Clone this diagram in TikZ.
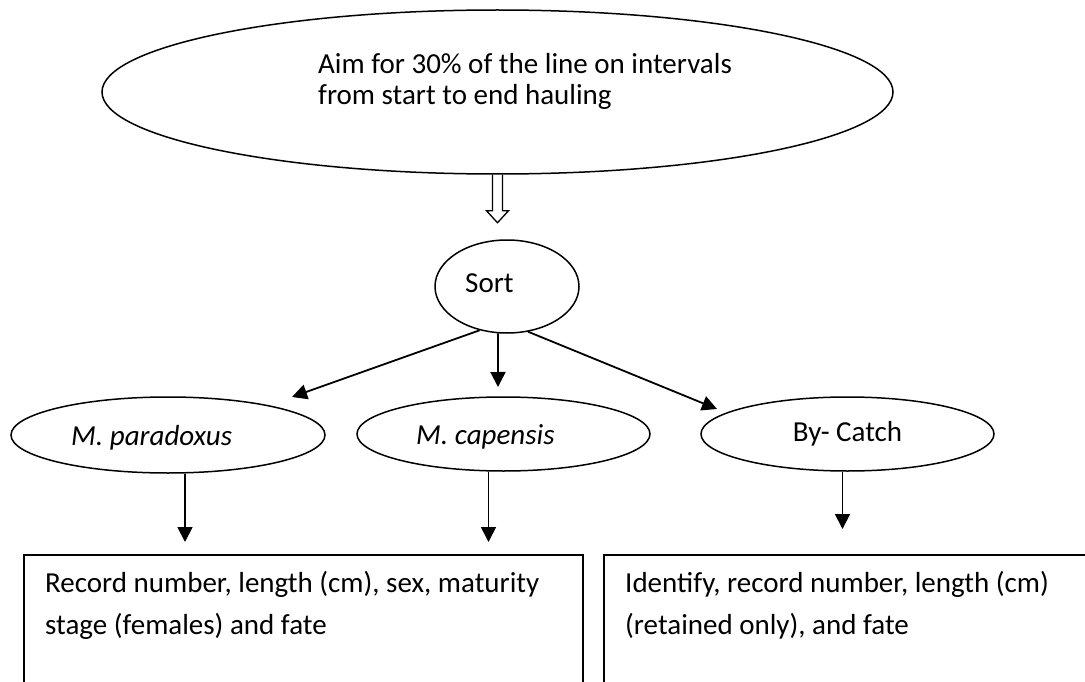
\documentclass[tikz,border=0pt]{standalone}
\usepackage{fontspec}
\setmainfont{Carlito}
\usepackage{tikz}
\usetikzlibrary{arrows.meta,shapes.geometric,positioning,calc}

\begin{document}
\begin{tikzpicture}[x=1pt, y=-1pt,
  oval/.style={draw, ellipse, line width=1.5pt, inner sep=0pt, font=\fontsize{29}{35}\selectfont},
  panel/.style={draw, rectangle, line width=2pt, anchor=north west},
  txt/.style={font=\fontsize{29}{31}\selectfont, inner sep=0pt, align=left},
  boxtxt/.style={font=\fontsize{29}{42}\selectfont, inner sep=0pt, align=left, anchor=north west},
  arr/.style={-{Triangle[length=15pt, width=15pt]}, line width=1.8pt},
  hollow/.style={line width=1.3pt, line join=miter}
]
\useasboundingbox (0,0) rectangle (1085,682);

% Ellipses
\node[oval, minimum width=791pt, minimum height=164pt] (aim) at (497.5,92) {};
\node[oval, minimum width=144pt, minimum height=93pt] (sort) at (507,286.5) {};
\node[oval, minimum width=314pt, minimum height=76pt] (para) at (168,435) {};
\node[oval, minimum width=293pt, minimum height=74pt] (cap) at (503.5,434) {};
\node[oval, minimum width=293pt, minimum height=74pt] (bycatch) at (847.5,434) {By- Catch};

% Ellipse texts
\node[txt, anchor=north west] (aimtxt) at (318,53) {Aim for 30\% of the line on intervals\\from start to end hauling};
\node[txt, anchor=base west] (sorttxt) at (465,292) {Sort};
\node[txt, anchor=base west] (paratxt) at (71,445) {\textit{M. paradoxus}};
\node[txt, anchor=base west] (captxt) at (416,444) {\textit{M. capensis}};

% Boxes
\node[panel, minimum width=559pt, minimum height=170pt] (lbox) at (23,554) {};
\node[panel, minimum width=520pt, minimum height=170pt] (rbox) at (603,554) {};
\node[boxtxt] (ltxt) at ([xshift=22pt,yshift=-17pt]lbox.north west) {Record number, length (cm), sex, maturity\\stage (females) and fate};
\node[boxtxt] (rtxt) at ([xshift=22pt,yshift=-17pt]rbox.north west) {Identify, record number, length (cm)\\(retained only), and fate};

% Hollow arrow
\draw[hollow] ([xshift=-5pt]aim.south) -- ++(0,36) -- ++(-6,0) -- ++(11,12) -- ++(11,-12) -- ++(-6,0) -- ++(0,-36);

% Arrow ends
\coordinate (paratip) at (292,397);
\coordinate (captip) at (498,387);
\coordinate (bytip) at (717,409);
\coordinate (lbtip) at (185,542);
\coordinate (cbtip) at (488.5,542);
\coordinate (rbtip) at (842.5,529);

% Arrows
\draw[arr] (sort.238.6) -- (paratip);
\draw[arr] (sort.259.3) -- (captip);
\draw[arr] (sort.295.8) -- (bytip);
\draw[arr] (para.south -| lbtip) -- (lbtip);
\draw[arr] (cap.south -| cbtip) -- (cbtip);
\draw[arr] (bycatch.south -| rbtip) -- (rbtip);

\end{tikzpicture}
\end{document}
